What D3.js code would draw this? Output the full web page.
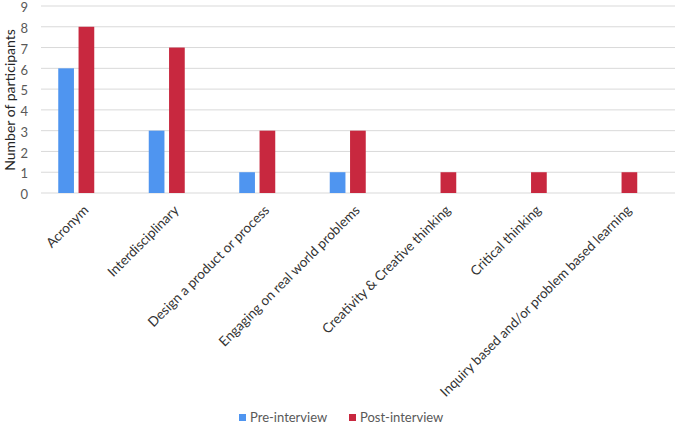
<!DOCTYPE html>
<html>
<head>
<meta charset="utf-8">
<script src="https://cdn.jsdelivr.net/npm/d3@7"></script>
<style>
  body { margin: 0; background: #fff; }
  svg { font-family: Lato, "Open Sans", sans-serif; }
</style>
</head>
<body>
<div id="chart"></div>
<script>
const categories = [
  "Acronym",
  "Interdisciplinary",
  "Design a product or process",
  "Engaging on real world problems",
  "Creativity & Creative thinking",
  "Critical thinking",
  "Inquiry based and/or problem based learning"
];
const seriesNames = ["Pre-interview", "Post-interview"];
const preValues  = [6, 3, 1, 1, 0, 0, 0];
const postValues = [8, 7, 3, 3, 1, 1, 1];
const yTicks = [0, 1, 2, 3, 4, 5, 6, 7, 8, 9];

const colors = { "Pre-interview": "#4f95f0", "Post-interview": "#c8283f" };

const width = 677, height = 425;
const data = categories.map((c, i) => ({ cat: c, values: [preValues[i], postValues[i]] }));

const svg = d3.select("#chart").append("svg")
  .attr("width", width)
  .attr("height", height);

const x0 = d3.scaleBand().domain(categories).range([31, 664.5]);
const bw = x0.bandwidth();
const x1 = d3.scaleBand().domain(seriesNames)
  .range([bw / 2 - 18, bw / 2 + 18])
  .paddingInner(0.2266);

const y = d3.scaleLinear().domain([0, 9]).range([193, 6]);

// gridlines
svg.append("g")
  .selectAll("line")
  .data(yTicks)
  .enter()
  .append("line")
    .attr("x1", 41).attr("x2", 675)
    .attr("y1", d => y(d)).attr("y2", d => y(d))
    .attr("stroke", "#d9d9d9")
    .attr("stroke-width", 1);

// y tick labels
const yAxis = d3.axisLeft(y).tickValues(yTicks).tickSize(0).tickPadding(0);
svg.append("g")
  .attr("transform", "translate(28,1.5)")
  .call(yAxis)
  .call(g => g.select(".domain").remove())
  .call(g => g.selectAll("text")
    .attr("fill", "#595959")
    .attr("font-size", "13px")
    .attr("font-family", "Lato, sans-serif"));

// y title
svg.append("text")
  .attr("transform", "translate(15,100) rotate(-90)")
  .attr("text-anchor", "middle")
  .attr("font-size", "14px")
  .attr("fill", "#262626")
  .text("Number of participants");

// bars
const groups = svg.append("g")
  .selectAll("g")
  .data(data)
  .enter()
  .append("g")
    .attr("transform", d => `translate(${x0(d.cat)},0)`);

groups.selectAll("rect")
  .data(d => d.values.map((v, i) => ({ name: seriesNames[i], value: v })))
  .enter()
  .append("rect")
    .attr("x", d => x1(d.name))
    .attr("width", x1.bandwidth())
    .attr("y", d => y(d.value))
    .attr("height", d => y(0) - y(d.value))
    .attr("fill", d => colors[d.name]);

// category labels
svg.append("g")
  .selectAll("text")
  .data(categories)
  .enter()
  .append("text")
    .attr("transform", d => `translate(${x0(d) + bw / 2 + 13},${211}) rotate(-45)`)
    .attr("text-anchor", "end")
    .attr("font-size", "13.5px")
    .attr("fill", "#333")
    .text(d => d);

// legend
const legendX = [239, 349];
const legend = svg.append("g")
  .selectAll("g")
  .data(seriesNames)
  .enter()
  .append("g")
    .attr("transform", (d, i) => `translate(${legendX[i]},414)`);

legend.append("rect")
  .attr("width", 7).attr("height", 7)
  .attr("fill", d => colors[d]);

legend.append("text")
  .attr("x", 11).attr("y", 8)
  .attr("font-size", "13px")
  .attr("fill", "#595959")
  .text(d => d);
</script>
</body>
</html>
